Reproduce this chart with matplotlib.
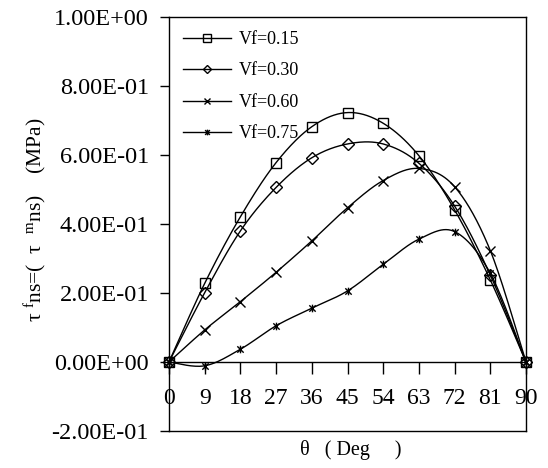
import numpy as np
import matplotlib
matplotlib.use('Agg')
import matplotlib.pyplot as plt
from matplotlib.path import Path
from matplotlib.ticker import FuncFormatter, FixedLocator

# ---- data ----
theta = [0, 9, 18, 27, 36, 45, 54, 63, 72, 81, 90]
vf015 = [0.0, 0.228, 0.421, 0.578, 0.682, 0.723, 0.692, 0.598, 0.441, 0.238, 0.0]
vf030 = [0.0, 0.201, 0.380, 0.506, 0.592, 0.632, 0.632, 0.576, 0.452, 0.252, 0.0]
vf060 = [0.0, 0.093, 0.175, 0.260, 0.351, 0.447, 0.526, 0.561, 0.508, 0.323, 0.0]
vf075 = [0.0, -0.011, 0.037, 0.105, 0.156, 0.206, 0.283, 0.356, 0.378, 0.257, 0.0]
series_labels = ['Vf=0.15', 'Vf=0.30', 'Vf=0.60', 'Vf=0.75']
x_ticks = [0, 9, 18, 27, 36, 45, 54, 63, 72, 81, 90]
y_ticks = [-0.2, 0.0, 0.2, 0.4, 0.6, 0.8, 1.0]
x_label = 'θ   ( Deg     )'
y_label = 'τ $^{\\mathrm{f}}$ns=(  τ  $^{\\mathrm{m}}$ns)    (MPa)'

plt.rcParams['font.family'] = ['Liberation Serif', 'DejaVu Serif']
plt.rcParams['mathtext.fontset'] = 'custom'
plt.rcParams['mathtext.rm'] = 'Liberation Serif'
plt.rcParams['mathtext.it'] = 'Liberation Serif:italic'

W, H = 548, 468
fig = plt.figure(figsize=(W / 100, H / 100), dpi=100)
L, R, T, B = 169, 526, 17, 431
ax = fig.add_axes([L / W, (H - B) / H, (R - L) / W, (B - T) / H])
ax.set_xlim(0, 90)
ax.set_ylim(-0.2, 1.0)

for s in ['left', 'right', 'top', 'bottom']:
    ax.spines[s].set_linewidth(1.0)
ax.spines['bottom'].set_position(('data', 0))
ax.plot([0, 1], [0, 0], transform=ax.transAxes, color='k', lw=1.0, clip_on=False)

ax.xaxis.set_major_locator(FixedLocator(x_ticks))
ax.set_xticklabels([str(v) for v in x_ticks])
ax.yaxis.set_major_locator(FixedLocator(y_ticks))
ax.yaxis.set_major_formatter(FuncFormatter(lambda v, p: f"{v:.2E}".replace('-0.00', '0.00')))
ax.tick_params(axis='x', direction='out', length=8.5, width=1.0, pad=10, labelsize=17)
ax.tick_params(axis='y', direction='out', length=6.5, width=1.0, pad=8, labelsize=17.5)

ax.set_xlabel(x_label, fontsize=14.5)
ax.xaxis.set_label_coords((351 - L) / (R - L), (B - 440) / (B - T))
ax.set_ylabel(y_label, fontsize=15.5)
ax.yaxis.set_label_coords((49 - L) / (R - L), (B - 220) / (B - T))

# asterisk marker (x plus vertical bar)
ast = Path([(-1, -1), (1, 1), (-1, 1), (1, -1), (0, -1.2), (0, 1.2)],
           [Path.MOVETO, Path.LINETO, Path.MOVETO, Path.LINETO, Path.MOVETO, Path.LINETO])

def smooth(xs, ys, n=30):
    pts = ax.transData.transform(np.column_stack([xs, ys]))
    P = np.vstack([pts[0], pts, pts[-1]])
    out = []
    t = np.linspace(0, 1, n)[:, None]
    for i in range(1, len(P) - 2):
        p0, p1, p2, p3 = P[i - 1], P[i], P[i + 1], P[i + 2]
        c1 = p1 + (p2 - p0) / 6
        c2 = p2 - (p3 - p1) / 6
        seg = (1 - t) ** 3 * p1 + 3 * (1 - t) ** 2 * t * c1 + 3 * (1 - t) * t ** 2 * c2 + t ** 3 * p2
        out.append(seg if i == 1 else seg[1:])
    out = np.vstack(out)
    d = ax.transData.inverted().transform(out)
    return d[:, 0], d[:, 1]

series = [vf015, vf030, vf060, vf075]
markers = [('s', 7.5, 'none'), ('D', 6, 'none'), ('x', 6.5, 'k'), (ast, 5.5, 'k')]
handles = []
for ys, lab, (m, ms, mfc) in zip(series, series_labels, markers):
    sx, sy = smooth(theta, ys)
    ax.plot(sx, sy, color='k', lw=1.0, clip_on=False, zorder=3)
    ax.plot(theta, ys, linestyle='none', marker=m, ms=ms, mfc=mfc, mec='k', mew=1.0,
            clip_on=False, zorder=4)
    h, = ax.plot([], [], color='k', lw=1.0, marker=m, ms=ms * 0.75, mfc=mfc, mec='k', mew=1.0, label=lab)
    handles.append(h)

leg = ax.legend(handles=handles, loc='upper left', frameon=False, fontsize=13,
                bbox_to_anchor=((183 - L) / (R - L), 1 - (14 / (B - T))),
                borderaxespad=0, borderpad=0, handlelength=2.65, handletextpad=0.45,
                labelspacing=0.8)

fig.savefig('out.png', dpi=100)
